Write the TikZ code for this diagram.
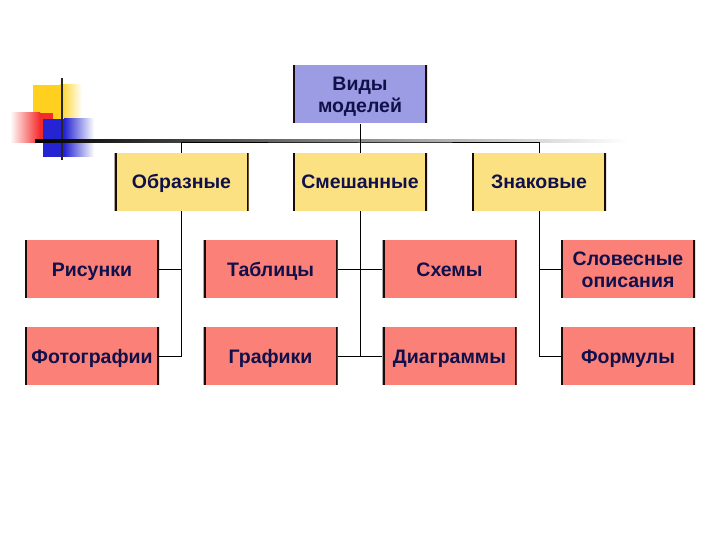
\documentclass[tikz,border=0pt]{standalone}
\usepackage{fontspec}
\setmainfont{Liberation Sans}
\usepackage{xcolor}
\definecolor{encre}{HTML}{10104A}
\definecolor{bord}{HTML}{1A0A0A}
\definecolor{lavande}{HTML}{9C9CE4}
\definecolor{jaune}{HTML}{FCE183}
\definecolor{saumon}{HTML}{FA8078}
\definecolor{jaunedeco}{HTML}{FFD11E}
\definecolor{rougedeco}{HTML}{F52A2A}
\definecolor{bleudeco}{HTML}{2424D2}
\tikzset{
  bloc/.style={rectangle, minimum width=134pt, minimum height=58pt, inner sep=0pt,
    align=center, text=encre, text height=14pt, text depth=0pt,
    font=\fontsize{19.5}{22}\selectfont\bfseries,
    path picture={\draw[line width=4pt, color=bord]
      (path picture bounding box.north west) -- (path picture bounding box.south west)
      (path picture bounding box.north east) -- (path picture bounding box.south east);}},
  deuxlignes/.style={text height=36pt},
  blocracine/.style={bloc, deuxlignes, fill=lavande},
  blocjaune/.style={bloc, fill=jaune},
  blocrouge/.style={bloc, fill=saumon},
  lien/.style={line width=1pt, color=black},
}

\begin{document}
\begin{tikzpicture}[x=1pt, y=-1pt]
    \useasboundingbox (0,0) rectangle (720,540);
    % Motif du modele de diapositive
    \fill[jaunedeco] (33,85) rectangle (60,135);
    \shade[left color=jaunedeco, right color=white] (60,85) rectangle (82,135);
    \fill[rougedeco] (40,113) rectangle (53,143);
    \shade[left color=white, right color=rougedeco] (10,113) rectangle (40,143);
    \fill[bleudeco] (43,119) rectangle (64,157);
    \shade[left color=bleudeco, right color=white] (64,119) rectangle (94,157);
    \draw[line width=2pt, color=black!85] (62,78) -- (62,160);
    \shade[left color=black, middle color=black!55, right color=white]
      (35,140) rectangle (628,142.5);

    % Racine et categories
    \node[blocracine] (racine) at (360,94.5) {Виды\\ моделей};
    \node[blocjaune] (obr) at (181.5,182) {Образные};
    \node[blocjaune] (smesh) at (360,182) {Смешанные};
    \node[blocjaune] (znak) at (539,182) {Знаковые};
    \coordinate (bus) at (360,143);

    % Exemples
    \foreach \nom/\x/\y/\txt in {ris/92/269/{Рисунки}, foto/92/356/{Фотографии},
        tabl/270.5/269/{Таблицы}, graf/270.5/356/{Графики},
        schem/449.5/269/{Схемы}, diag/449.5/356/{Диаграммы},
        form/628/356/{Формулы}} {
      \node[blocrouge] (\nom) at (\x,\y) {\txt};
    }
    \node[blocrouge, deuxlignes] (slov) at (628,269) {Словесные\\ описания};

    % Liaisons
    \draw[lien] (racine) -- (bus);
    \draw[lien] (obr.north) |- (bus) -| (znak.north);
    \draw[lien] (bus) -- (smesh.north);
    \draw[lien] (ris.east) -| (obr.south);
    \draw[lien] (obr.south) |- (foto.east);
    \draw[lien] (tabl.east) -| (smesh.south);
    \draw[lien] (schem.west) -| (smesh.south);
    \draw[lien] (smesh.south) |- (graf.east);
    \draw[lien] (smesh.south) |- (diag.west);
    \draw[lien] (slov.west) -| (znak.south);
    \draw[lien] (znak.south) |- (form.west);
\end{tikzpicture}
\end{document}
